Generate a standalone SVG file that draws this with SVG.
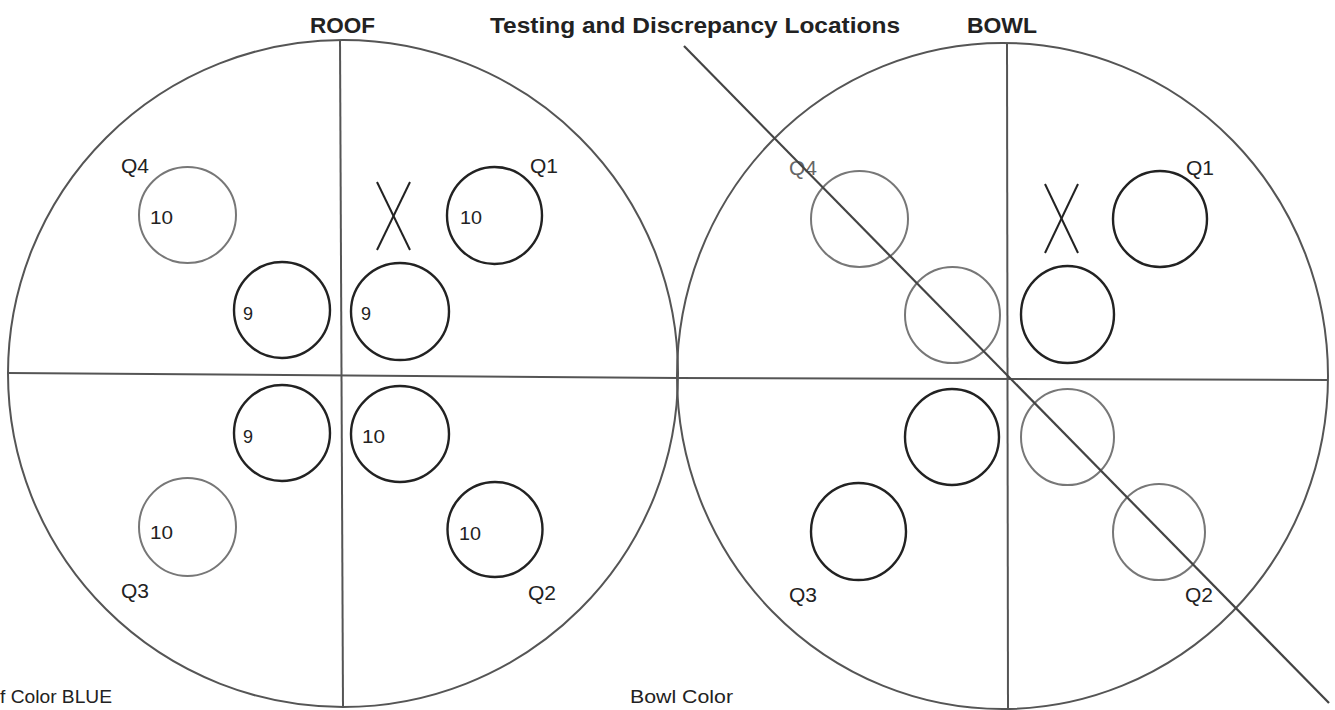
<svg xmlns="http://www.w3.org/2000/svg" width="1335" height="710" viewBox="0 0 1335 710">
  <style>
    .big { fill: none; stroke: #555; stroke-width: 2; }
    .axis { stroke: #555; stroke-width: 2; fill: none; }
    .dk { fill: none; stroke: #222; stroke-width: 2.4; }
    .lt { fill: none; stroke: #777; stroke-width: 2; }
    .mark { stroke: #222; stroke-width: 2; fill: none; }
    .head { font-family: "Liberation Sans", Arial, sans-serif; font-weight: bold; fill: #222; }
    .q { font-family: "Liberation Sans", Arial, sans-serif; font-size: 21px; fill: #222; }
    .num { font-family: "Liberation Sans", Arial, sans-serif; font-size: 18px; fill: #222; }
    .foot { font-family: "Liberation Sans", Arial, sans-serif; font-size: 18px; fill: #222; }
  </style>
  <rect width="1335" height="710" fill="#fff"/>

  <g id="titles">
    <text class="head" x="310" y="33" font-size="22" textLength="65" lengthAdjust="spacingAndGlyphs">ROOF</text>
    <text class="head" x="490" y="33" font-size="22" textLength="410" lengthAdjust="spacingAndGlyphs">Testing and Discrepancy Locations</text>
    <text class="head" x="967" y="33" font-size="22" textLength="70" lengthAdjust="spacingAndGlyphs">BOWL</text>
  </g>

  <g id="roof">
    <ellipse class="big" cx="343" cy="373.5" rx="335" ry="333.5"/>
    <line class="axis" x1="340" y1="40" x2="343" y2="707"/>
    <line class="axis" x1="8" y1="373" x2="679" y2="378"/>
    <g id="roof-q4"><ellipse class="lt" cx="187.5" cy="215" rx="48.5" ry="48"/><text class="num" x="150" y="224" textLength="23" lengthAdjust="spacingAndGlyphs">10</text></g>
    <g id="roof-q1"><ellipse class="dk" cx="494.5" cy="215.5" rx="47.5" ry="48.5"/><text class="num" x="460" y="224" textLength="22" lengthAdjust="spacingAndGlyphs">10</text></g>
    <g id="roof-x"><line class="mark" x1="377" y1="182" x2="410" y2="250"/><line class="mark" x1="410" y1="182" x2="377" y2="250"/></g>
    <g id="roof-in-tl"><ellipse class="dk" cx="282" cy="310" rx="48" ry="48"/><text class="num" x="243" y="320">9</text></g>
    <g id="roof-in-tr"><ellipse class="dk" cx="400" cy="311.5" rx="49" ry="48.5"/><text class="num" x="361" y="320">9</text></g>
    <g id="roof-in-bl"><ellipse class="dk" cx="282" cy="433" rx="48" ry="48"/><text class="num" x="243" y="443">9</text></g>
    <g id="roof-in-br"><ellipse class="dk" cx="400" cy="434" rx="49" ry="48"/><text class="num" x="362" y="443" textLength="23" lengthAdjust="spacingAndGlyphs">10</text></g>
    <g id="roof-q3"><ellipse class="lt" cx="187.5" cy="527" rx="48.5" ry="49"/><text class="num" x="150" y="539" textLength="23" lengthAdjust="spacingAndGlyphs">10</text></g>
    <g id="roof-q2"><ellipse class="dk" cx="495" cy="529.5" rx="47.5" ry="47.5"/><text class="num" x="459" y="540" textLength="22" lengthAdjust="spacingAndGlyphs">10</text></g>
    <text class="q" x="121" y="173">Q4</text>
    <text class="q" x="530" y="173">Q1</text>
    <text class="q" x="121" y="598">Q3</text>
    <text class="q" x="528" y="600">Q2</text>
  </g>

  <g id="bowl">
    <ellipse class="big" cx="1002.5" cy="376" rx="325.5" ry="333"/>
    <line class="axis" x1="1007" y1="43" x2="1008" y2="709"/>
    <line class="axis" x1="677" y1="378" x2="1328" y2="380"/>
    <g id="bowl-q4"><ellipse class="lt" cx="859.5" cy="219" rx="48.5" ry="48"/></g>
    <g id="bowl-q1"><ellipse class="dk" cx="1160" cy="219" rx="47" ry="48"/></g>
    <g id="bowl-x"><line class="mark" x1="1045" y1="184" x2="1078" y2="253"/><line class="mark" x1="1078" y1="184" x2="1045" y2="253"/></g>
    <g id="bowl-in-tl"><ellipse class="lt" cx="952.5" cy="315" rx="47.5" ry="48"/></g>
    <g id="bowl-in-tr"><ellipse class="dk" cx="1067.5" cy="314.5" rx="46.5" ry="48.5"/></g>
    <g id="bowl-in-bl"><ellipse class="dk" cx="952" cy="437" rx="47" ry="48"/></g>
    <g id="bowl-in-br"><ellipse class="lt" cx="1067.5" cy="437" rx="46.5" ry="48"/></g>
    <g id="bowl-q3"><ellipse class="dk" cx="858.5" cy="531.5" rx="47.5" ry="48.5"/></g>
    <g id="bowl-q2"><ellipse class="lt" cx="1159" cy="532" rx="46" ry="48"/></g>
    <text class="q" x="789" y="175" style="fill:#666">Q4</text>
    <text class="q" x="1186" y="175">Q1</text>
    <text class="q" x="789" y="602">Q3</text>
    <text class="q" x="1185" y="602">Q2</text>
  </g>

  <g id="connectors">
    <line x1="684" y1="46" x2="1329" y2="703" stroke="#444" stroke-width="2.2"/>
  </g>

  <g id="footer">
    <text class="foot" x="0" y="703" textLength="112" lengthAdjust="spacingAndGlyphs">f Color BLUE</text>
    <text class="foot" x="630" y="703" textLength="103" lengthAdjust="spacingAndGlyphs">Bowl Color</text>
  </g>
</svg>
